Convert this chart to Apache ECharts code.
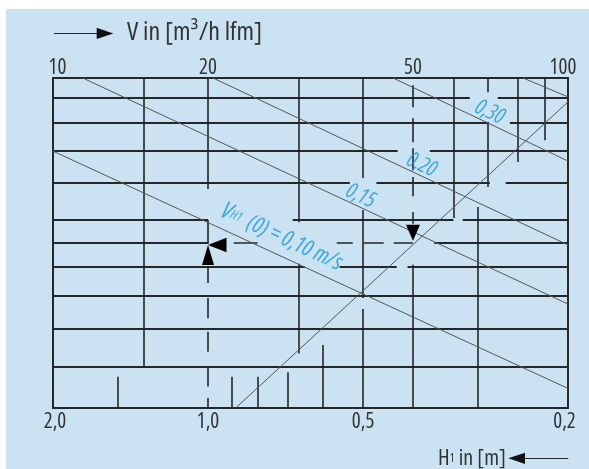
<!DOCTYPE html>
<html>
<head>
<meta charset="utf-8">
<script src="https://cdn.jsdelivr.net/npm/echarts@6.0.0/dist/echarts.min.js"></script>
<style>
html, body { margin: 0; padding: 0; background: #ffffff; }
#chart { width: 589px; height: 469px; }
</style>
</head>
<body>
<div id="chart"></div>
<script>
// Nomogram: volume flow per metre (top, V) against height H1 (bottom), V = 20 / H1.
// The vertical scale Y is an unlabelled log scale used to carry the velocity lines.

// tick labels
const vTicks = [10, 20, 50, 100];          // V in m³/h lfm
const hTicks = [2.0, 1.0, 0.5, 0.2];       // H1 in m

// vertical grid pieces on the V scale: [V, Y from, Y to]
const vGrid = [
  [15, 10, 2.44],
  [20, 10, 5.82], [20, 5.0, 4.45],
  [30, 10, 4.95], [30, 4.04, 2.61],
  [40, 10, 6.14], [40, 5.25, 3.42], [40, 3.24, 2],
  [50, 4.02, 2],
  [60, 10, 5.05],
  [70, 10, 9.33], [70, 8.07, 5.88],
  [80, 10, 6.64],
  [90, 10, 7.38]
];

// marks of the H1 scale: [H1, Y from, Y to]
const hGrid = [
  [1.5, 2.33, 2], [0.9, 2.33, 2], [0.8, 2.33, 2],
  [0.7, 2.38, 2], [0.6, 2.72, 2], [0.3, 5.33, 2]
];

// horizontal grid pieces: [Y, V from, V to]
const yGrid = [
  [9.07, 10, 64.45], [9.07, 73.05, 100],
  [8.05, 10, 70.15], [8.05, 77.1, 100],
  [7.0, 10, 46.7], [7.0, 53.9, 100],
  [6.0, 10, 37.7], [6.0, 42.46, 70.5], [6.0, 75.7, 100],
  [5.0, 10, 20], [5.0, 29.2, 59.9], [5.0, 62.46, 100],
  [4.47, 10, 20], [4.47, 55.0, 100],
  [3.99, 10, 30.8], [3.99, 36.0, 46.5], [3.99, 48.8, 100],
  [3.46, 10, 100],
  [2.95, 10, 100],
  [2.45, 10, 100]
];

// lines of constant outlet velocity V_H1(0) in m/s: [v, V1, Y1, V2, Y2]
const velLines = [
  [0.10, 10, 7.0, 100, 2.20],
  [0.15, 11.42, 10, 100, 3.32],
  [0.20, 20.45, 10, 100, 4.43],
  [0.30, 45.74, 10, 100, 6.67],
  [0.40, 81.8, 10, 100, 9.12]
];
// where each velocity value is written: [v, V, Y]
const velLabelPos = [
  [0.30, 70.5, 8.46],
  [0.20, 52.0, 6.54],
  [0.15, 39.6, 5.62],
  [0.10, 27.8, 4.60]
];

// rising reference line: [V, Y] end points
const refLine = [[22.63, 2], [100, 8.90]];

// worked example (dashed path)
const exDashH1 = [[3.96, 3.68], [3.42, 3.10], [2.90, 2.63], [2.45, 2.22], [2.10, 2.0]];   // at H1 = 1.0
const exDashY = [[22.43, 24.97], [35.55, 38.2], [40.1, 43.86], [45.87, 50]];               // at Y = 4.47
const exDashV = [[9.65, 8.67], [8.22, 7.31], [7.10, 6.38], [6.17, 5.62], [5.20, 4.91]];    // at V = 50
const exY = 4.47;
const exH1 = 1.0;
const exV = 50;
// arrow heads: [x value, Y, axis ('V' or 'H'), rotation, width, length]
const exArrows = [
  [1.0, 4.22, 'H', 0, 12, 20],
  [20.84, 4.43, 'V', 90, 14.5, 18.5],
  [50, 4.70, 'V', 180, 14, 16]
];

// condensed face of the variable Open Sans: the stretch keyword rides in the weight slot
const FAM = '"Open Sans"';
const STRETCH = 'condensed';
const INK = '#262626';
const TEXT = '#333333';
const THIN = '#555555';
const BLUE = '#1a9ad6';
const BG = '#cbe2f2';

const comma = (v, d) => v.toFixed(d).replace('.', ',');
const seg = (a, b) => ({ coords: [a, b] });
const txt = (size, extra) => Object.assign({ fontFamily: FAM, fontWeight: STRETCH, fontSize: size, color: TEXT }, extra || {});

function linesSeries(xAxisIndex, data, style) {
  return {
    type: 'lines', coordinateSystem: 'cartesian2d', xAxisIndex, yAxisIndex: 0,
    silent: true, animation: false, z: style.z || 2,
    lineStyle: { color: style.color, width: style.width, opacity: 1, curveness: 0 },
    data
  };
}

const series = [
  linesSeries(0, yGrid.map(([y, a, b]) => seg([a, y], [b, y])), { color: INK, width: 2 }),
  linesSeries(0, vGrid.map(([v, a, b]) => seg([v, a], [v, b])), { color: INK, width: 1.6 }),
  linesSeries(1, hGrid.map(([h, a, b]) => seg([h, a], [h, b])), { color: INK, width: 1.6 }),
  linesSeries(0, velLines.map(([, v1, y1, v2, y2]) => seg([v1, y1], [v2, y2])), { color: THIN, width: 1, z: 3 }),
  linesSeries(0, [seg(refLine[0], refLine[1])], { color: THIN, width: 1, z: 3 }),
  linesSeries(1, exDashH1.map(([a, b]) => seg([exH1, a], [exH1, b])), { color: INK, width: 1.6 }),
  linesSeries(0, exDashY.map(([a, b]) => seg([a, exY], [b, exY])), { color: INK, width: 1.6 }),
  linesSeries(0, exDashV.map(([a, b]) => seg([exV, a], [exV, b])), { color: INK, width: 1.6 })
];

// arrow heads
['V', 'H'].forEach((ax, i) => {
  series.push({
    type: 'scatter', xAxisIndex: i, yAxisIndex: 0, silent: true, animation: false, z: 5,
    symbol: 'triangle',
    itemStyle: { color: '#000000', opacity: 1 },
    data: exArrows.filter(a => a[2] === ax).map(a => ({
      value: [a[0], a[1]], symbolRotate: a[3], symbolSize: [a[4], a[5]]
    }))
  });
});

// velocity labels written along the lines
const blue = (size, lh) => ({ color: BLUE, fontFamily: FAM, fontWeight: STRETCH, fontStyle: 'italic', fontSize: size, lineHeight: lh });
series.push({
  type: 'scatter', xAxisIndex: 0, yAxisIndex: 0, silent: true, animation: false, z: 6,
  symbolSize: 1,
  itemStyle: { color: 'rgba(0,0,0,0)' },
  label: Object.assign({
    show: true, position: 'inside', rotate: -24.8,
    formatter: p => p.data.text,
    rich: { v: blue(24, 26), s: blue(13, 11), t: blue(23, 26) }
  }, blue(22, 24)),
  data: velLabelPos.map(([v, x, y]) => ({
    value: [x, y],
    text: v === 0.10
      ? '{v|V}{s|H1}{t|  (0) = ' + comma(v, 2) + ' m/s}'
      : comma(v, 2)
  }))
});

const chart = echarts.init(document.getElementById('chart'), null, { renderer: 'canvas' });
chart.setOption({
  animation: false,
  backgroundColor: '#ffffff',
  grid: { left: 53, top: 78, width: 515, height: 330, containLabel: false },
  xAxis: [
    {
      type: 'log', logBase: 10, min: 10, max: 100, position: 'top',
      axisLine: { show: true, onZero: false, lineStyle: { color: INK, width: 2 } },
      axisTick: { show: false },
      splitLine: { show: false },
      axisLabel: Object.assign({
        show: true, customValues: vTicks, margin: -1,
        formatter: v => v === 10 ? '{a|10}' : v === 100 ? '{b|100}' : String(v),
        rich: {
          a: txt(21, { padding: [0, 0, 0, 9] }),
          b: txt(21, { padding: [0, 10, 0, 0] })
        }
      }, txt(21))
    },
    {
      type: 'log', logBase: 10, min: 0.2, max: 2, inverse: true, position: 'bottom',
      axisLine: { show: true, onZero: false, lineStyle: { color: INK, width: 2 } },
      axisTick: { show: false },
      splitLine: { show: false },
      axisLabel: Object.assign({
        show: true, customValues: hTicks, margin: 4,
        formatter: v => v === 2 ? '{a|2,0}' : v === 0.2 ? '{b|0,2}' : comma(v, 1),
        rich: {
          a: txt(21, { padding: [0, 0, 0, 4] }),
          b: txt(21, { padding: [0, 7, 0, 0] })
        }
      }, txt(21))
    }
  ],
  yAxis: [
    {
      type: 'log', logBase: 10, min: 2, max: 10, position: 'left',
      axisLine: { show: true, onZero: false, lineStyle: { color: INK, width: 2 } },
      axisTick: { show: false }, axisLabel: { show: false }, splitLine: { show: false }
    },
    {
      type: 'log', logBase: 10, min: 2, max: 10, position: 'right',
      axisLine: { show: true, onZero: false, lineStyle: { color: INK, width: 2 } },
      axisTick: { show: false }, axisLabel: { show: false }, splitLine: { show: false }
    }
  ],
  graphic: [
    { type: 'rect', z: -10, silent: true, shape: { x: 6, y: 9, width: 583, height: 460 }, style: { fill: BG } },
    { type: 'line', silent: true, shape: { x1: 54, y1: 33.5, x2: 98, y2: 33.5 }, style: { stroke: INK, lineWidth: 1 } },
    { type: 'polygon', silent: true, shape: { points: [[96.7, 27.7], [113.3, 33.4], [96.7, 39]] }, style: { fill: '#111111' } },
    { type: 'text', silent: true, x: 127, y: 33,
      style: { text: 'V in [m³/h lfm]', font: STRETCH + ' 26px ' + FAM, fill: TEXT, align: 'left', verticalAlign: 'middle' } },
    { type: 'text', silent: true, x: 438, y: 458.3,
      style: {
        text: '{a|H}{s|1}{a| in [m]}', align: 'left', verticalAlign: 'middle',
        rich: {
          a: { fontFamily: FAM, fontWeight: STRETCH, fontSize: 22, fill: TEXT, lineHeight: 24 },
          s: { fontFamily: FAM, fontWeight: STRETCH, fontSize: 12, fill: TEXT, lineHeight: 10 }
        }
      } },
    { type: 'polygon', silent: true, shape: { points: [[508.3, 458.3], [525, 452.8], [525, 464]] }, style: { fill: '#111111' } },
    { type: 'line', silent: true, shape: { x1: 524, y1: 458.5, x2: 568.3, y2: 458.5 }, style: { stroke: INK, lineWidth: 1 } }
  ],
  series
});
</script>
</body>
</html>
